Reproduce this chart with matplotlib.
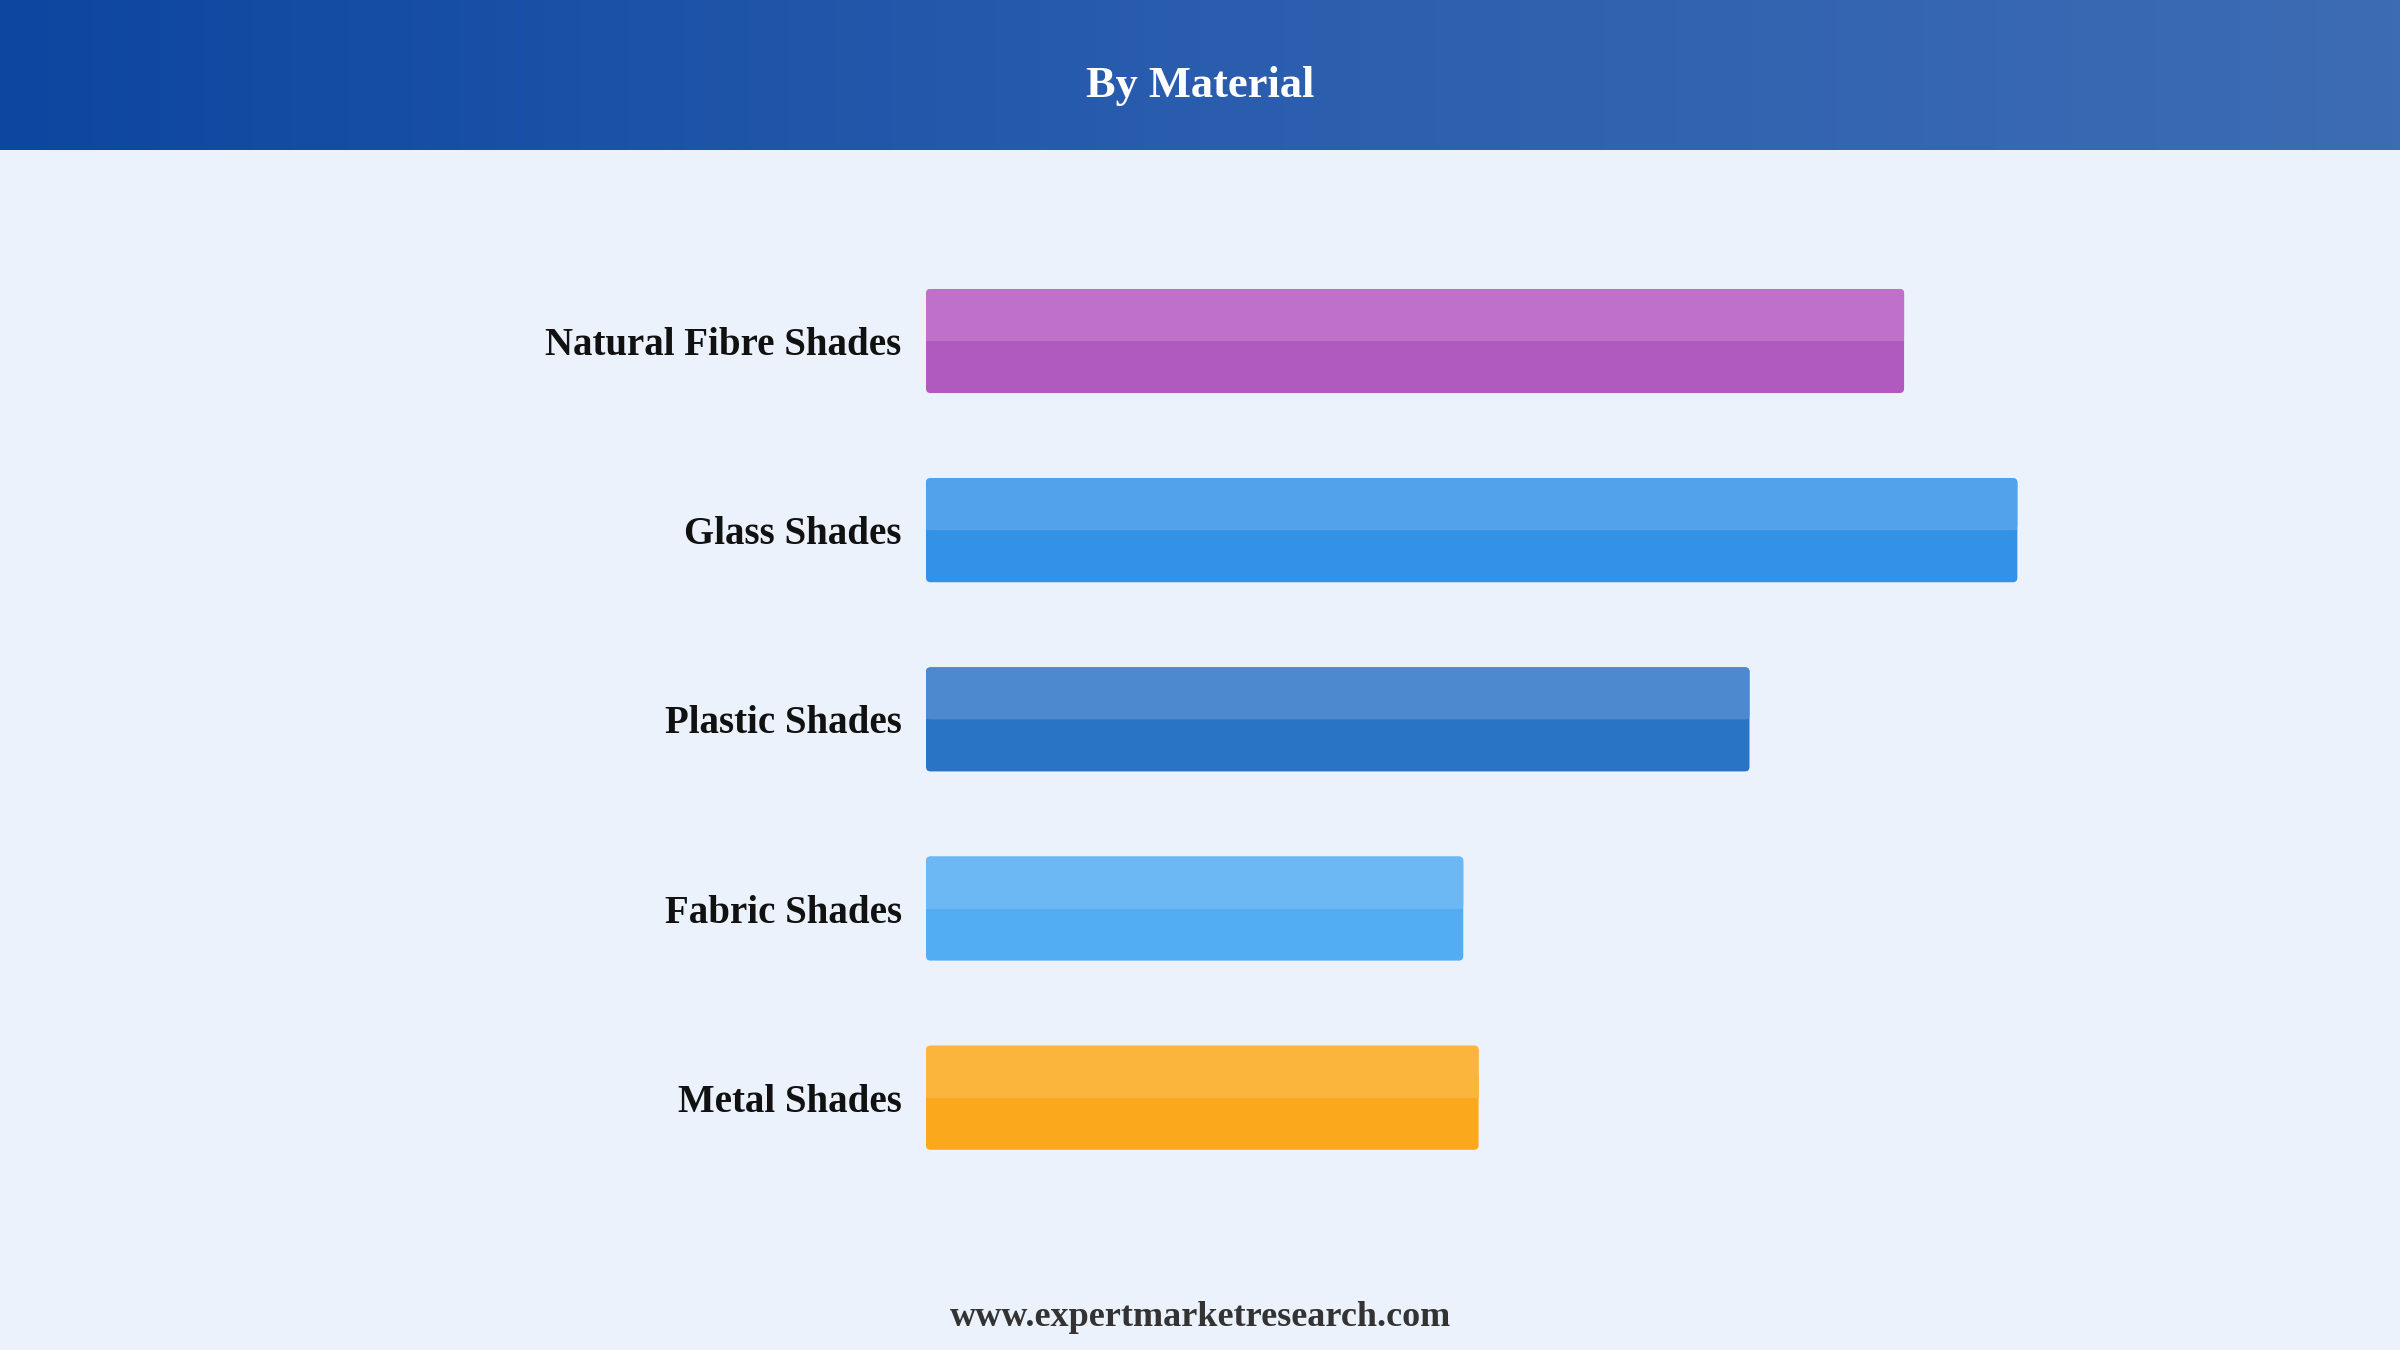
import numpy as np
import matplotlib
matplotlib.use("Agg")
from matplotlib import pyplot as plt
from matplotlib.patches import FancyBboxPatch
from matplotlib.colors import LinearSegmentedColormap

# data
categories = ["Natural Fibre Shades", "Glass Shades", "Plastic Shades", "Fabric Shades", "Metal Shades"]
values = [31.95, 35.65, 26.9, 17.55, 18.05]
colors_bottom = ["#B05ABF", "#3391E6", "#2A74C5", "#52ADF2", "#FBA81C"]
colors_top = ["#BF71CA", "#51A2EA", "#4C89CE", "#6CB8F5", "#FBB43C"]

title = "By Material"
footer = "www.expertmarketresearch.com"

plt.rcParams["font.family"] = ["Liberation Serif", "DejaVu Serif"]

fig = plt.figure(figsize=(24, 13.5), dpi=100)
fig.patch.set_facecolor("#EBF2FC")

# header with gradient
hdr = fig.add_axes([0, 1 - 150 / 1350, 1, 150 / 1350])
grad = LinearSegmentedColormap.from_list("hdr", ["#0D46A0", "#2A5DAE", "#3D6CB4"])
hdr.imshow(np.linspace(0, 1, 256)[None, :], aspect="auto", cmap=grad, extent=[0, 1, 0, 1])
hdr.set_axis_off()
hdr.text(0.5, 0.43, title, color="white", fontsize=32, fontweight="bold",
         ha="center", va="center", transform=hdr.transAxes)

# bars
ax = fig.add_axes([605 / 1568, 1 - 779 / 882, 1 - 605 / 1568, (779 - 161) / 882])
ax.set_facecolor("none")
y = np.arange(len(categories))
h = 0.55
ax.set_xlim(0, (1568 - 605) / 20)
ax.set_ylim(len(categories) - 0.5, -0.5)

bars = ax.barh(y, values, height=h, color=colors_bottom, linewidth=0)
ax.barh(y - h / 4, values, height=h / 2, color=colors_top, linewidth=0)

# rounded corners: replace the bars with rounded patches
fig.canvas.draw()
px_x = ax.transData.transform((1, 0))[0] - ax.transData.transform((0, 0))[0]
px_y = abs(ax.transData.transform((0, 1))[1] - ax.transData.transform((0, 0))[1])
for b in list(ax.patches):
    b.remove()
r = 4.5 / px_x
for i, v in enumerate(values):
    p = FancyBboxPatch((0, y[i] - h / 2), v, h,
                       boxstyle=f"round,pad=0,rounding_size={r}",
                       mutation_aspect=px_x / px_y,
                       facecolor=colors_bottom[i], edgecolor="none")
    ax.add_patch(p)
    p2 = FancyBboxPatch((0, y[i] - h / 2), v, h / 2,
                        boxstyle=f"round,pad=0,rounding_size={r}",
                        mutation_aspect=px_x / px_y,
                        facecolor=colors_top[i], edgecolor="none")
    ax.add_patch(p2)
    ax.add_patch(plt.Rectangle((0, y[i] - h / 2 + h * 0.3), v, h * 0.2,
                               facecolor=colors_top[i], edgecolor="none"))

ax.set_yticks(y)
ax.set_yticklabels(categories, fontsize=28, fontweight="bold", color="#111111")
ax.tick_params(axis="y", length=0, pad=17.5)
ax.set_xticks([])
for s in ax.spines.values():
    s.set_visible(False)

fig.text(0.5, 1 - 861 / 882, footer, fontsize=26, fontweight="bold", color="#333333",
         ha="center", va="center")

fig.savefig("out.png", dpi=100, facecolor=fig.get_facecolor())
